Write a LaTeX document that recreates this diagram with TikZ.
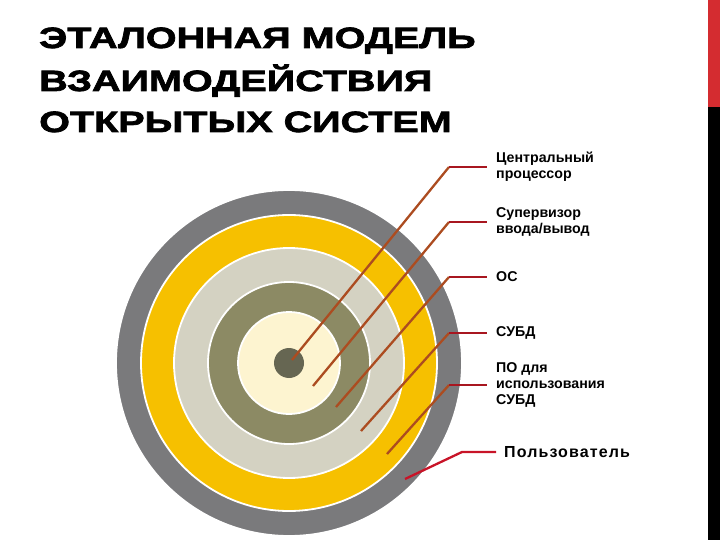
\documentclass[tikz,border=0pt]{standalone}
\usepackage{fontspec}
\setmainfont{Liberation Sans}
\newfontfamily\titlefont{Liberation Sans}[FakeStretch=1.35, FakeBold=2.5]
\newfontfamily\userfont{Liberation Sans}[LetterSpace=7]
\definecolor{barred}{RGB}{212,44,48}
\definecolor{ringgray}{RGB}{122,122,124}
\definecolor{ringyellow}{RGB}{246,192,0}
\definecolor{ringlight}{RGB}{212,210,194}
\definecolor{ringolive}{RGB}{140,138,100}
\definecolor{ringcream}{RGB}{253,244,208}
\definecolor{dotgray}{RGB}{102,102,82}
\definecolor{leadbrown}{RGB}{172,76,32}
\definecolor{leadred}{RGB}{168,22,32}
\definecolor{userred}{RGB}{200,20,40}
\tikzset{
  ring/.style={draw=white, line width=1.8pt},
  diag/.style={draw=leadbrown, line width=2.3pt},
  hseg/.style={draw=leadred, line width=2.3pt},
  tag/.style={anchor=west, align=left, inner xsep=9pt, inner ysep=0pt,
    font=\bfseries\fontsize{14.2}{16}\selectfont},
  heading/.style={anchor=base west, inner sep=0pt,
    font=\titlefont\bfseries\fontsize{29.3}{35}\selectfont}
}
\begin{document}
\begin{tikzpicture}[x=1pt,y=-1pt]
    \useasboundingbox (0,0) rectangle (720,540);
    % bar at the right edge
    \fill[barred] (708,0) rectangle (720,107);
    \fill[black] (708,107) rectangle (720,540);
    % title
    \node[heading] (t1) at (39,48) {ЭТАЛОННАЯ МОДЕЛЬ};
    \node[heading] (t2) at (39,91) {ВЗАИМОДЕЙСТВИЯ};
    \node[heading] (t3) at (39,132) {ОТКРЫТЫХ СИСТЕМ};
    % the rings, outer to inner
    \coordinate (o) at (289,363);
    \foreach \r/\c in {173/ringgray,148/ringyellow,115/ringlight,81/ringolive,51/ringcream}
        \filldraw[ring, fill=\c] (o) circle (\r pt);
    \fill[dotgray] (o) circle (15pt);
    % labels
    \node[tag] (cpu) at (487,167) {Центральный\\процессор};
    \node[tag] (io) at (487,222) {Супервизор\\ввода/вывод};
    \node[tag] (os) at (487,277) {ОС};
    \node[tag] (dbms) at (487,333) {СУБД};
    \node[tag] (app) at (487,385) {ПО для\\использования\\СУБД};
    \node[tag, inner xsep=8pt, font=\userfont\bfseries\fontsize{16}{19}\selectfont] (user) at (496,452) {Пользователь};
    % leaders
    \coordinate (e1) at (292,360); \coordinate (k1) at (449,167);
    \coordinate (e2) at (313,386); \coordinate (k2) at (449,222);
    \coordinate (e3) at (336,407); \coordinate (k3) at (449,277);
    \coordinate (e4) at (361,431); \coordinate (k4) at (449,333);
    \coordinate (e5) at (387,454); \coordinate (k5) at (449,385);
    \coordinate (e6) at (405,479); \coordinate (k6) at (462,452);
    \foreach \i/\n in {1/cpu,2/io,3/os,4/dbms,5/app} {
        \draw[diag] (e\i) -- (k\i);
        \draw[hseg] (k\i) -- (\n.west);
    }
    \draw[userred, line width=2.3pt] (e6) -- (k6) -- (user.west);
\end{tikzpicture}
\end{document}
